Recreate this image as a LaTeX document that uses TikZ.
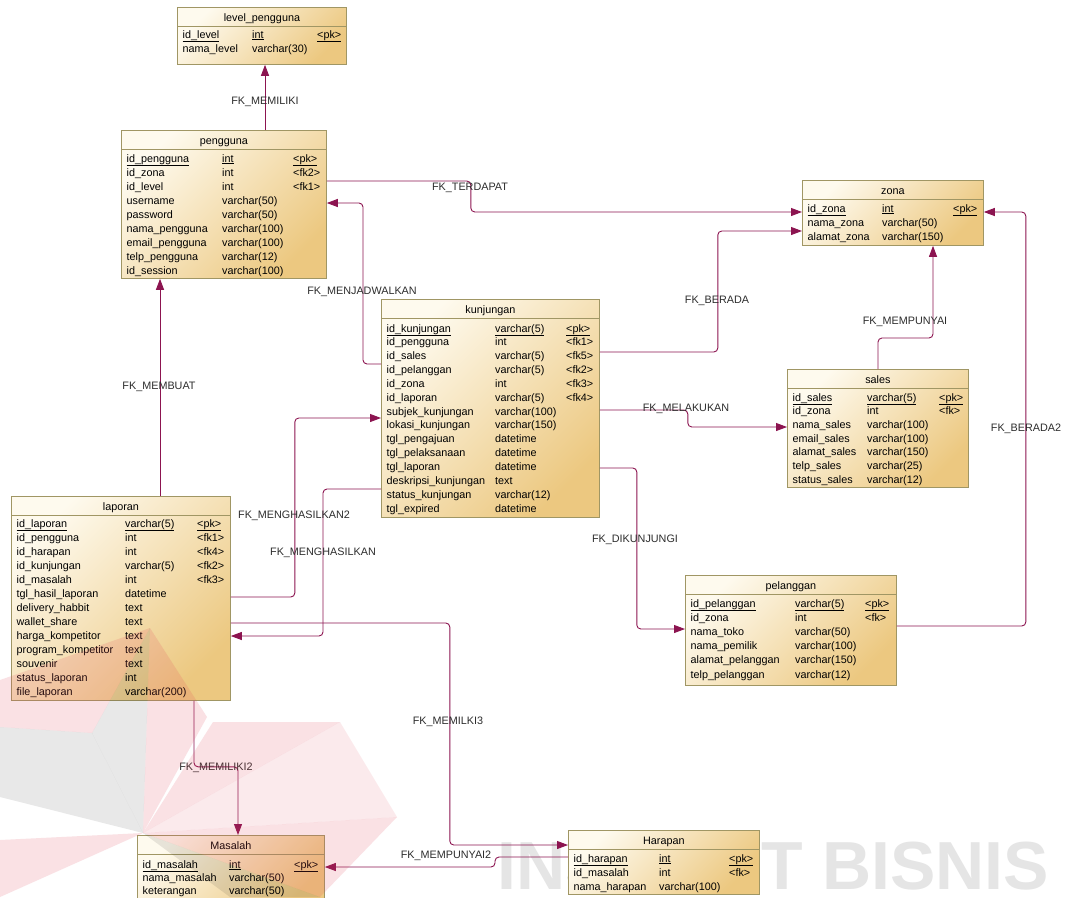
\documentclass[tikz,border=0pt]{standalone}
\usepackage{fontspec}
\setmainfont{Liberation Sans}
\usetikzlibrary{calc,arrows.meta}

\definecolor{tabedge}{RGB}{160,150,100}
\definecolor{tabtop}{RGB}{254,250,238}
\definecolor{tabbot}{RGB}{236,200,128}
\definecolor{fkline}{RGB}{140,20,80}
\definecolor{labtext}{RGB}{45,45,45}
\definecolor{wmpink}{RGB}{225,70,90}

\newcommand\erdfont{\fontsize{10.8}{13}\selectfont}

\tikzset{
  tab/.style={draw=tabedge, line width=0.8pt, rectangle, inner sep=0pt,
    top color=tabtop, bottom color=tabbot, shading angle=45},
  cell/.style={anchor=base west, inner sep=0pt, font=\erdfont, text=black},
  ttl/.style={anchor=base, inner sep=0pt, font=\erdfont, text=black},
  fk/.style={draw=fkline, line width=0.9pt, rounded corners=4pt,
    -{Triangle[length=11pt,width=8pt]}},
  fklab/.style={font=\erdfont, text=labtext, inner sep=0pt},
  wmp/.style={fill=wmpink, opacity=0.16},
  wmg/.style={fill=black, opacity=0.09},
}

% table frame: #1 name, #2 left, #3 top, #4 width, #5 height, #6 title
\newcommand\erdtab[6]{%
  \node[tab, anchor=north west, minimum width=#4pt, minimum height=#5pt] (#1) at (#2,#3) {};
  \node[ttl] (#1-title) at ($(#1.north)+(0,14)$) {#6};
  \draw[draw=tabedge, line width=0.8pt] ($(#1.north west)+(0,19.5)$) -- ($(#1.north east)+(0,19.5)$);
}
% table rows: #1 name, #2 first baseline, #3 pitch, #4 type column, #5 key column, #6 rows
\newcommand\erdrows[6]{%
  \foreach \fa/\fb/\fc [count=\ri from 0] in {#6} {
    \ifnum\ri=0 \let\erdmark\underline \else \let\erdmark\relax \fi
    \node[cell] (#1-n\ri) at ($(#1.north west)+(5.5,{#2+\ri*#3})$) {\erdmark{\fa}};
    \node[cell] (#1-t\ri) at ($(#1.north west)+(#4,{#2+\ri*#3})$) {\erdmark{\fb}};
    \node[cell] (#1-k\ri) at ($(#1.north west)+(#5,{#2+\ri*#3})$) {\erdmark{\fc}};
  }
}

\begin{document}
\begin{tikzpicture}[x=1pt,y=-1pt]
\useasboundingbox[fill=white] (0,0) rectangle (1067,897);

% ---- light lettering along the bottom edge ----
\node[anchor=base west, inner sep=0pt, font=\fontsize{68}{68}\selectfont\bfseries,
  text=black!10] (wm-text) at (497,889) {INSTITUT BISNIS};

% ---- tables ----
\erdtab{level}{177}{7}{169}{57}{level\_pengguna}
\erdrows{level}{31}{14}{75}{140}{id\_level/int/<pk>, nama\_level/varchar(30)/{}}

\erdtab{pengguna}{121}{130}{205}{148}{pengguna}
\erdrows{pengguna}{32}{14}{101}{172}{id\_pengguna/int/<pk>, id\_zona/int/<fk2>, id\_level/int/<fk1>,
  username/varchar(50)/{}, password/varchar(50)/{}, nama\_pengguna/varchar(100)/{},
  email\_pengguna/varchar(100)/{}, telp\_pengguna/varchar(12)/{}, id\_session/varchar(100)/{}}

\erdtab{zona}{802}{180}{181}{65}{zona}
\erdrows{zona}{32}{14}{80}{151}{id\_zona/int/<pk>, nama\_zona/varchar(50)/{}, alamat\_zona/varchar(150)/{}}

\erdtab{kunj}{381}{299}{218}{218}{kunjungan}
\erdrows{kunj}{33}{13.85}{114}{185}{id\_kunjungan/varchar(5)/<pk>, id\_pengguna/int/<fk1>,
  id\_sales/varchar(5)/<fk5>, id\_pelanggan/varchar(5)/<fk2>, id\_zona/int/<fk3>,
  id\_laporan/varchar(5)/<fk4>, subjek\_kunjungan/varchar(100)/{}, lokasi\_kunjungan/varchar(150)/{},
  tgl\_pengajuan/datetime/{}, tgl\_pelaksanaan/datetime/{}, tgl\_laporan/datetime/{},
  deskripsi\_kunjungan/text/{}, status\_kunjungan/varchar(12)/{}, tgl\_expired/datetime/{}}

\erdtab{sales}{787}{369}{181}{118}{sales}
\erdrows{sales}{32}{13.67}{80}{152}{id\_sales/varchar(5)/<pk>, id\_zona/int/<fk>,
  nama\_sales/varchar(100)/{}, email\_sales/varchar(100)/{}, alamat\_sales/varchar(150)/{},
  telp\_sales/varchar(25)/{}, status\_sales/varchar(12)/{}}

\erdtab{laporan}{11}{496}{219}{204}{laporan}
\erdrows{laporan}{31}{14}{114}{186}{id\_laporan/varchar(5)/<pk>, id\_pengguna/int/<fk1>,
  id\_harapan/int/<fk4>, id\_kunjungan/varchar(5)/<fk2>, id\_masalah/int/<fk3>,
  tgl\_hasil\_laporan/datetime/{}, delivery\_habbit/text/{}, wallet\_share/text/{},
  harga\_kompetitor/text/{}, program\_kompetitor/text/{}, souvenir/text/{},
  status\_laporan/int/{}, file\_laporan/varchar(200)/{}}

\erdtab{pelanggan}{685}{575}{211}{110}{pelanggan}
\erdrows{pelanggan}{32}{14.2}{110}{180}{id\_pelanggan/varchar(5)/<pk>, id\_zona/int/<fk>,
  nama\_toko/varchar(50)/{}, nama\_pemilik/varchar(100)/{}, alamat\_pelanggan/varchar(150)/{},
  telp\_pelanggan/varchar(12)/{}}

\erdtab{masalah}{137}{835}{187}{70}{Masalah}
\erdrows{masalah}{33}{13}{92}{157}{id\_masalah/int/<pk>, nama\_masalah/varchar(50)/{}, keterangan/varchar(50)/{}}

\erdtab{harapan}{568}{830}{191}{64}{Harapan}
\erdrows{harapan}{32}{14}{91}{161}{id\_harapan/int/<pk>, id\_masalah/int/<fk>, nama\_harapan/varchar(100)/{}}

% ---- foreign keys ----
\draw[fk] ($(pengguna.north west)+(144,0)$) -- ($(level.south west)+(88,0)$);
\draw[fk] ($(pengguna.north east)+(0,51)$) -- ++(144,0) |- ($(zona.north west)+(0,32)$);
\draw[fk] ($(kunj.north west)+(0,65)$) -- ++(-18,0) |- ($(pengguna.north east)+(0,73)$);
\draw[fk] ($(kunj.north east)+(0,53)$) -- ++(118,0) |- ($(zona.north west)+(0,51)$);
\draw[fk] ($(sales.north west)+(91,0)$) -- ++(0,-31) -| ($(zona.south west)+(131,0)$);
\draw[fk] ($(kunj.north east)+(0,111)$) -- ++(88,0) |- ($(sales.north west)+(0,58)$);
\draw[fk] ($(pelanggan.north east)+(0,51)$) -- ++(129,0) |- ($(zona.north east)+(0,32)$);
\draw[fk] ($(kunj.north east)+(0,169)$) -- ++(37,0) |- ($(pelanggan.north west)+(0,54)$);
\draw[fk] ($(laporan.north west)+(149,0)$) -- ($(pengguna.south west)+(39,0)$);
\draw[fk] ($(laporan.north east)+(0,101)$) -- ++(64,0) |- ($(kunj.north west)+(0,119)$);
\draw[fk] ($(kunj.north west)+(0,190)$) -- ++(-58,0) |- ($(laporan.north east)+(0,140)$);
\draw[fk] ($(laporan.north east)+(0,127)$) -- ++(219,0) |- ($(harapan.north west)+(0,15)$);
\draw[fk] ($(laporan.south west)+(183,0)$) -- ++(0,66) -| ($(masalah.north west)+(101,0)$);
\draw[fk] ($(harapan.north west)+(0,27)$) -- ++(-73,0) |- ($(masalah.north east)+(0,32)$);

% ---- relation names ----
\node[fklab] (l-memiliki) at (265,102) {FK\_MEMILIKI};
\node[fklab] (l-terdapat) at (470,188) {FK\_TERDAPAT};
\node[fklab] (l-menjadwalkan) at (362,292) {FK\_MENJADWALKAN};
\node[fklab] (l-berada) at (717,301) {FK\_BERADA};
\node[fklab] (l-mempunyai) at (905,322) {FK\_MEMPUNYAI};
\node[fklab] (l-melakukan) at (686,409) {FK\_MELAKUKAN};
\node[fklab] (l-berada2) at (1026,429) {FK\_BERADA2};
\node[fklab] (l-membuat) at (159,387) {FK\_MEMBUAT};
\node[fklab] (l-menghasilkan2) at (294,516) {FK\_MENGHASILKAN2};
\node[fklab] (l-menghasilkan) at (323,553) {FK\_MENGHASILKAN};
\node[fklab] (l-dikunjungi) at (635,540) {FK\_DIKUNJUNGI};
\node[fklab] (l-memilki3) at (448,722) {FK\_MEMILKI3};
\node[fklab] (l-memiliki2) at (216,768) {FK\_MEMILIKI2};
\node[fklab] (l-mempunyai2) at (446,856) {FK\_MEMPUNYAI2};

% ---- faint emblem over the lower left ----
\coordinate (wc) at (143,833);
\fill[wmg] (150,628) -- (92,733) -- (wc) -- cycle;
\fill[wmp] (150,628) -- (207,717) -- (wc) -- cycle;
\fill[wmp] (213,722) -- (340,722) -- (wc) -- cycle;
\fill[wmp, opacity=0.11] (340,722) -- (397,817) -- (wc) -- cycle;
\fill[wmp] (397,817) -- (320,897) -- (wc) -- cycle;
\fill[wmg] (320,897) -- (230,897) -- (wc) -- cycle;
\fill[wmp] (150,628) -- (0,680) -- (0,727) -- (92,733) -- cycle;
\fill[wmg] (0,727) -- (92,733) -- (wc) -- (0,797) -- cycle;
\fill[wmp] (0,840) -- (wc) -- (0,897) -- cycle;
\end{tikzpicture}
\end{document}
